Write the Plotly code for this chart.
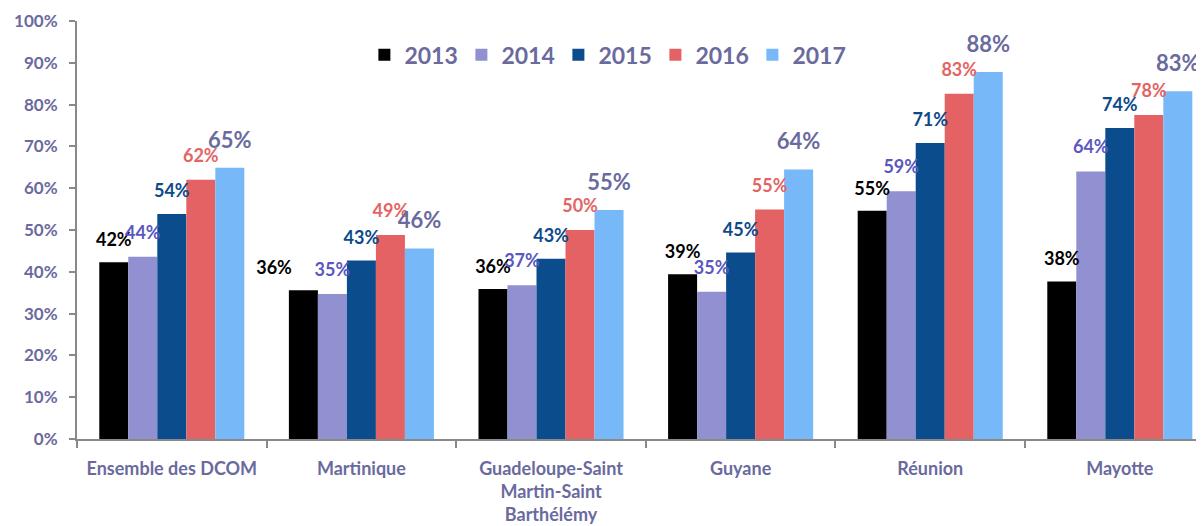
import plotly.graph_objects as go

categories = ["Ensemble des DCOM", "Martinique", "Guadeloupe-Saint<br>Martin-Saint<br>Barthélémy",
              "Guyane", "Réunion", "Mayotte"]
years = ["2013", "2014", "2015", "2016", "2017"]
v2013 = [0.423, 0.356, 0.359, 0.394, 0.546, 0.377]
v2014 = [0.436, 0.347, 0.368, 0.352, 0.593, 0.640]
v2015 = [0.538, 0.427, 0.431, 0.446, 0.708, 0.744]
v2016 = [0.620, 0.488, 0.500, 0.549, 0.826, 0.775]
v2017 = [0.649, 0.456, 0.548, 0.645, 0.878, 0.832]
series = [v2013, v2014, v2015, v2016, v2017]

bar_colors = ["#000000", "#9190D0", "#0A4C8C", "#E46264", "#76B8F8"]
label_colors = ["#000000", "#5B57C0", "#0B4A8B", "#E46464", "#6A6A9E"]
label_sizes = [18, 18, 18, 18, 22]
label_gaps = [16, 18, 17, 18, 20]   # px between bar top and label baseline
# label placement per category (the Martinique 2013 label sits to the left in the original)
label_positions = [
    ["top center", "top left", "top center", "top center", "top center", "top center"],
    "top center", "top center", "top center", "top center",
]
axis_text = "#6A6A9E"
font_family = "Lato, 'Open Sans', sans-serif"

fig = go.Figure()
for yr, vals, bc in zip(years, series, bar_colors):
    fig.add_trace(go.Bar(
        name=yr, x=categories, y=vals,
        marker=dict(color=bc, line=dict(width=0)),
        hoverinfo="skip",
    ))
for yr, vals, lc, ls, gap, pos in zip(years, series, label_colors, label_sizes, label_gaps, label_positions):
    r = gap - 0.25 * ls
    msize = 2 * (r - 1) * 0.8
    fig.add_trace(go.Scatter(
        name=yr, x=categories, y=vals, mode="markers+text",
        marker=dict(size=msize, color="rgba(0,0,0,0)"),
        text=[f"{v:.0%}" for v in vals], textposition=pos,
        textfont=dict(color=lc, size=ls, family=font_family, weight="bold"),
        showlegend=False, hoverinfo="skip", cliponaxis=False,
    ))

# page body has an 8px margin, so the figure is shrunk accordingly
fig.update_layout(
    width=1196, height=518,
    margin=dict(l=69, r=0, t=13, b=87, autoexpand=False),
    paper_bgcolor="white", plot_bgcolor="white",
    barmode="group", bargap=0.235, bargroupgap=0,
    scattermode="group", scattergap=0.235,
    font=dict(family=font_family, color=axis_text),
    legend=dict(
        orientation="h", x=0.255, y=0.919, xanchor="left", yanchor="middle",
        font=dict(size=23, color=axis_text, family=font_family, weight="bold"),
        entrywidth=52, entrywidthmode="pixels", itemwidth=30,
        bgcolor="rgba(0,0,0,0)",
    ),
    showlegend=True,
)
fig.update_yaxes(
    range=[0, 1], dtick=0.1, tickformat=".0%",
    showgrid=False, zeroline=False, automargin=False,
    showline=True, linecolor="#898989", linewidth=2,
    ticks="outside", ticklen=6, tickcolor="#898989", tickwidth=2,
    tickfont=dict(size=17, color=axis_text, family=font_family, weight="bold"),
    ticklabelstandoff=8,
)
fig.update_xaxes(
    range=[-0.5, 5.444], tickangle=0, automargin=False,
    showgrid=False, showline=True, linecolor="#898989", linewidth=2,
    ticks="outside", ticklen=7, tickcolor="#898989", tickwidth=2,
    tickson="boundaries",
    tickfont=dict(size=18, color=axis_text, family=font_family, weight="bold"),
    ticklabelstandoff=12,
)

fig.write_html("out.html")
